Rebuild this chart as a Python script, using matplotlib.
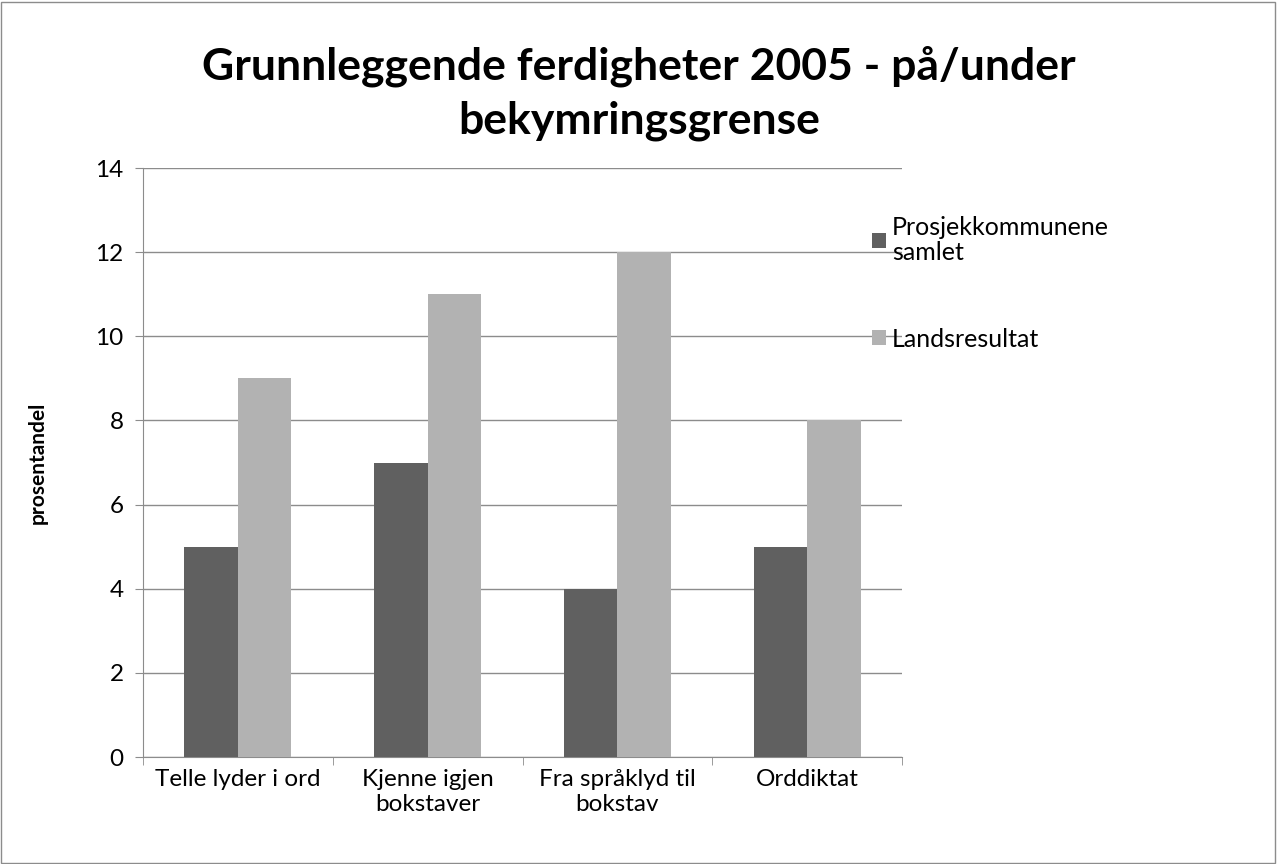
import numpy as np
import matplotlib.pyplot as plt
from matplotlib.patches import Rectangle

categories = ["Telle lyder i ord", "Kjenne igjen\nbokstaver", "Fra språklyd til\nbokstav", "Orddiktat"]
prosjekt = [5, 7, 4, 5]
lands = [9, 11, 12, 8]
series_names = ["Prosjekkommunene\nsamlet", "Landsresultat"]

plt.rcParams["font.family"] = ["Lato", "DejaVu Sans"]

fig = plt.figure(figsize=(12.78, 8.64), dpi=100)
ax = fig.add_axes([143 / 1278, 1 - 757 / 864, 759 / 1278, 589 / 864])

x = np.arange(len(categories))
w = 0.282
ax.bar(x - w / 2, prosjekt, w, color="#606060", label=series_names[0], zorder=3)
ax.bar(x + w / 2, lands, w, color="#b2b2b2", label=series_names[1], zorder=3)

ax.set_xlim(-0.5, len(categories) - 0.5)
ax.set_ylim(0, 14)
ax.set_yticks(range(0, 15, 2))
ax.yaxis.grid(True, color="#8c8c8c", linewidth=1, zorder=0)
ax.set_xticks(x)
ax.set_xticklabels(categories, fontsize=17.5, linespacing=1.2)
ax.set_xticks(np.arange(-0.5, len(categories)), minor=True)
ax.tick_params(axis="x", which="major", length=0, pad=9)
ax.tick_params(axis="x", which="minor", length=6, color="#8c8c8c")
ax.tick_params(axis="y", length=6, color="#8c8c8c", labelsize=17.5, pad=8)
for s in ["top", "right"]:
    ax.spines[s].set_visible(False)
for s in ["left", "bottom"]:
    ax.spines[s].set_color("#8c8c8c")

ax.set_ylabel("prosentandel", fontsize=15, fontweight="bold", labelpad=34)

fig.text(0.5, 1 - 93 / 864, "Grunnleggende ferdigheter 2005 - på/under\nbekymringsgrense",
         ha="center", va="center", fontsize=32, fontweight="bold", linespacing=1.4)

leg = ax.legend(loc="upper left", bbox_to_anchor=(872 / 1278, 1 - 216 / 864), bbox_transform=fig.transFigure,
                frameon=False, fontsize=18, handlelength=0.55, handleheight=0.55, handletextpad=0.25,
                labelspacing=2.55, borderpad=0, borderaxespad=0)
for t in leg.get_texts():
    t.set_linespacing(1.1)

fig.patches.append(Rectangle((0.001, 0.001), 0.997, 0.997, transform=fig.transFigure,
                             fill=False, edgecolor="#8c8c8c", linewidth=1))

fig.savefig("out.png", dpi=100)
